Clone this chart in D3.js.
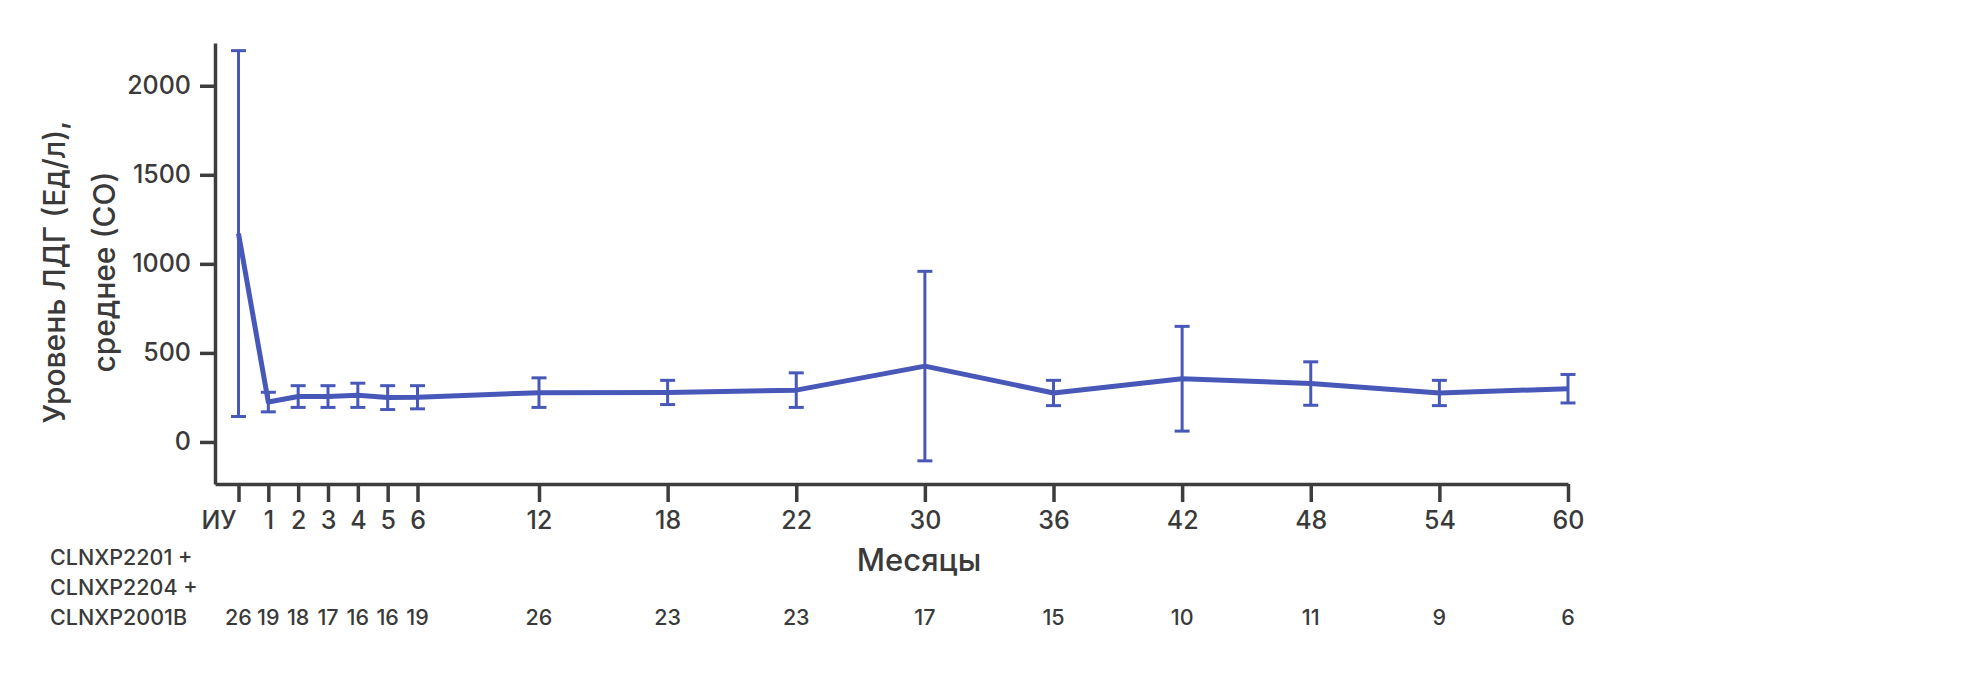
<!DOCTYPE html>
<html>
<head>
<meta charset="utf-8">
<script src="https://cdn.jsdelivr.net/npm/d3@7"></script>
<style>
    body { margin: 0; background: #fff; }
    svg text { font-family: Inter, "Noto Sans", sans-serif; fill: #3a3a3a; font-weight: 500; }
</style>
</head>
<body>
<div id="chart"></div>
<script>
// months on the x axis (ИУ = baseline)
const months = ["ИУ", "1", "2", "3", "4", "5", "6", "12", "18", "22", "30", "36", "42", "48", "54", "60"];
// LDH mean and SD, U/L
const ldhMean = [1170, 224, 255, 255, 262, 249, 251, 277, 278, 291, 426, 275, 355, 328, 275, 299];
const ldhSd = [1027, 55, 61, 61, 68, 67, 65, 83, 68, 97, 532, 71, 294, 122, 71, 80];
// patients at each visit
const patientCounts = [26, 19, 18, 17, 16, 16, 19, 26, 23, 23, 17, 15, 10, 11, 9, 6];
const yTicks = [0, 500, 1000, 1500, 2000];
const studyLines = ["CLNXP2201 +", "CLNXP2204 +", "CLNXP2001B"];

const blue = "#4858b8";
const axisColor = "#3d3d3d";

drawChart();

function drawChart() {
    const width = 1980;
    const height = 681;

    const svg = d3.select("#chart").append("svg")
        .attr("width", width)
        .attr("height", height);

    // first 7 visits are packed tight, the rest spaced wide
    const x = d3.scaleLinear()
        .domain([-0.8, 0, 6, 7, 15])
        .range([215, 238.5, 417.5, 539, 1568]);

    const y = d3.scaleLinear()
        .domain([-236, 2240])
        .range([484, 43]);

    const xAxis = d3.axisBottom(x)
        .tickValues(d3.range(months.length))
        .tickFormat(i => months[i])
        .tickSize(18)
        .tickSizeOuter(0)
        .tickPadding(9);

    const gx = svg.append("g")
        .attr("transform", "translate(0," + 484 + ")")
        .call(xAxis);
    gx.selectAll("text")
        .attr("font-size", 25)
        .attr("dx", (d, i) => i === 0 ? -20 : 0);

    const yAxis = d3.axisLeft(y)
        .tickValues(yTicks)
        .tickFormat(d3.format("d"))
        .tickSize(15)
        .tickSizeOuter(0)
        .tickPadding(9);

    const gy = svg.append("g")
        .attr("transform", "translate(" + 215 + ",0)")
        .call(yAxis);
    gy.selectAll("text").attr("font-size", 25);

    svg.selectAll(".domain, .tick line")
        .attr("stroke", axisColor)
        .attr("stroke-width", 3.5);
    svg.selectAll(".tick text").style("fill", "#3a3a3a");

    // error bars
    const bars = svg.append("g")
        .selectAll("g")
        .data(months)
        .enter()
        .append("g")
        .attr("stroke", blue)
        .attr("stroke-width", 3);

    bars.append("line")
        .attr("x1", (d, i) => x(i))
        .attr("x2", (d, i) => x(i))
        .attr("y1", (d, i) => y(ldhMean[i] + ldhSd[i]))
        .attr("y2", (d, i) => y(ldhMean[i] - ldhSd[i]));
    bars.append("line")
        .attr("x1", (d, i) => x(i) - 7.5)
        .attr("x2", (d, i) => x(i) + 7.5)
        .attr("y1", (d, i) => y(ldhMean[i] + ldhSd[i]))
        .attr("y2", (d, i) => y(ldhMean[i] + ldhSd[i]));
    bars.append("line")
        .attr("x1", (d, i) => x(i) - 7.5)
        .attr("x2", (d, i) => x(i) + 7.5)
        .attr("y1", (d, i) => y(ldhMean[i] - ldhSd[i]))
        .attr("y2", (d, i) => y(ldhMean[i] - ldhSd[i]));

    // mean line
    const line = d3.line()
        .x((d, i) => x(i))
        .y(d => y(d));
    svg.append("path")
        .datum(ldhMean)
        .attr("fill", "none")
        .attr("stroke", blue)
        .attr("stroke-width", 5)
        .attr("stroke-linejoin", "round")
        .attr("d", line);

    // axis titles
    svg.append("text")
        .attr("x", 919)
        .attr("y", 571)
        .attr("text-anchor", "middle")
        .attr("font-size", 31)
        .text("Месяцы");

    const yTitle = svg.append("text")
        .attr("transform", "translate(" + 65 + "," + 272 + ") rotate(-90)")
        .attr("text-anchor", "middle")
        .attr("font-size", 30);
    yTitle.append("tspan").attr("x", 0).attr("dy", 0).text("Уровень ЛДГ (Ед/л),");
    yTitle.append("tspan").attr("x", 0).attr("dy", 50).text("среднее (СО)");

    // patient numbers table
    svg.append("g")
        .selectAll("text")
        .data(studyLines)
        .enter()
        .append("text")
        .attr("x", 50)
        .attr("y", (d, i) => 565 + i * 30)
        .attr("font-size", 21.5)
        .text(d => d);

    svg.append("g")
        .selectAll("text")
        .data(patientCounts)
        .enter()
        .append("text")
        .attr("x", (d, i) => x(i))
        .attr("y", 625)
        .attr("text-anchor", "middle")
        .attr("font-size", 21.5)
        .text(d => d);
}
</script>
</body>
</html>
